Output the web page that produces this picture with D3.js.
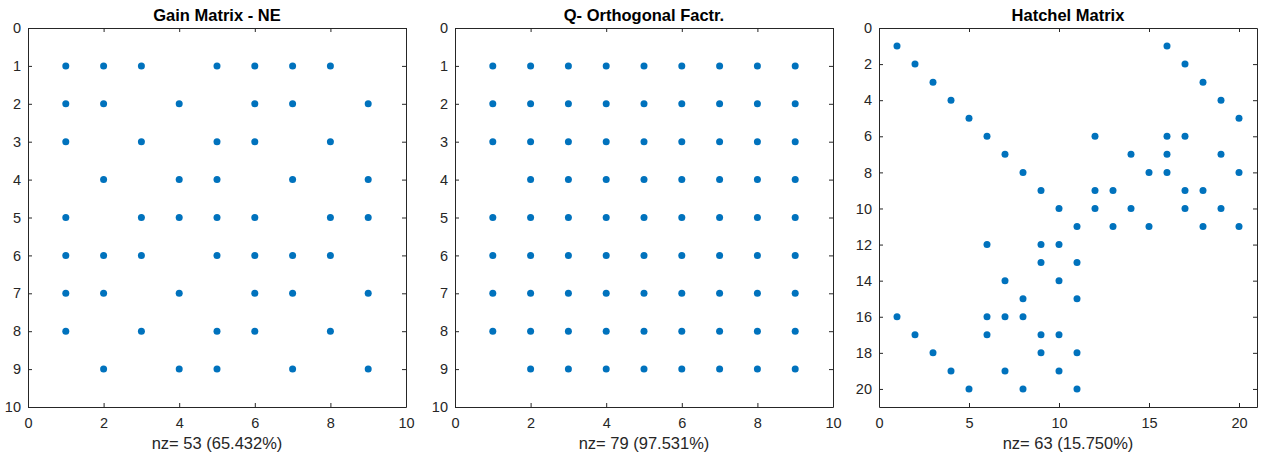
<!DOCTYPE html>
<html>
<head>
<meta charset="utf-8">
<script src="https://cdn.jsdelivr.net/npm/d3@7"></script>
<style>
  body { margin: 0; background: #fff; }
  svg { display: block; font-family: "Liberation Sans", Arial, sans-serif; }
</style>
</head>
<body>
<div id="chart"></div>
<script>
// sparsity patterns

// Gain Matrix - NE : column indices per row 1..9
const gainRows = [
  [1, 2, 3, 5, 6, 7, 8],
  [1, 2, 4, 6, 7, 9],
  [1, 3, 5, 6, 8],
  [2, 4, 5, 7, 9],
  [1, 3, 4, 5, 6, 8, 9],
  [1, 2, 3, 5, 6, 7, 8],
  [1, 2, 4, 6, 7, 9],
  [1, 3, 5, 6, 8],
  [2, 4, 5, 7, 9]
]

// Q- Orthogonal Factr. : column indices per row 1..9
const qRows = [
  [1, 2, 3, 4, 5, 6, 7, 8, 9],
  [1, 2, 3, 4, 5, 6, 7, 8, 9],
  [1, 2, 3, 4, 5, 6, 7, 8, 9],
  [2, 3, 4, 5, 6, 7, 8, 9],
  [1, 2, 3, 4, 5, 6, 7, 8, 9],
  [1, 2, 3, 4, 5, 6, 7, 8, 9],
  [1, 2, 3, 4, 5, 6, 7, 8, 9],
  [1, 2, 3, 4, 5, 6, 7, 8, 9],
  [2, 3, 4, 5, 6, 7, 8, 9]
]

// Hatchel Matrix : column indices per row 1..20
const hatchelRows = [
  [1, 16],
  [2, 17],
  [3, 18],
  [4, 19],
  [5, 20],
  [6, 12, 16, 17],
  [7, 14, 16, 19],
  [8, 15, 16, 20],
  [9, 12, 13, 17, 18],
  [10, 12, 14, 17, 19],
  [11, 13, 15, 18, 20],
  [6, 9, 10],
  [9, 11],
  [7, 10],
  [8, 11],
  [1, 6, 7, 8],
  [2, 6, 9, 10],
  [3, 9, 11],
  [4, 7, 10],
  [5, 8, 11]
]

const titles = ['Gain Matrix - NE', 'Q- Orthogonal Factr.', 'Hatchel Matrix']
const xlabels = ['nz= 53 (65.432%)', 'nz= 79 (97.531%)', 'nz= 63 (15.750%)']
const smallTicks = [0, 2, 4, 6, 8, 10]
const smallYTicks = [0, 1, 2, 3, 4, 5, 6, 7, 8, 9, 10]
const bigXTicks = [0, 5, 10, 15, 20]
const bigYTicks = [0, 2, 4, 6, 8, 10, 12, 14, 16, 18, 20]

const toPoints = (rows) => {
  const pts = []
  rows.forEach((cols, i) => cols.forEach(c => pts.push({ row: i + 1, col: c })))
  return pts
}

const panels = [
  { rows: gainRows, max: 10, xt: smallTicks, yt: smallYTicks, left: 28 },
  { rows: qRows, max: 10, xt: smallTicks, yt: smallYTicks, left: 455 },
  { rows: hatchelRows, max: 21, xt: bigXTicks, yt: bigYTicks, left: 879 }
]

const W = 1261, H = 460
const plotTop = 28, plotBottom = 407, plotW = 378
const ink = '#262626'
const dotColor = '#0072BD'

const svg = d3.select('#chart').append('svg')
  .attr('width', W)
  .attr('height', H)

panels.forEach((p, k) => {
  const x = d3.scaleLinear().domain([0, p.max]).range([p.left, p.left + plotW])
  const y = d3.scaleLinear().domain([0, p.max]).range([plotTop, plotBottom])
  const g = svg.append('g')

  // axes, matlab style: ticks inward on all four sides
  const styleAxis = (sel) => {
    sel.select('.domain').attr('stroke', ink)
    sel.selectAll('.tick line').attr('stroke', ink)
    sel.selectAll('.tick text').attr('fill', ink).attr('font-size', 14.5)
  }

  g.append('g')
    .attr('transform', `translate(0,${plotBottom})`)
    .call(d3.axisBottom(x).tickValues(p.xt).tickSizeInner(-4).tickSizeOuter(0).tickPadding(11))
    .call(styleAxis)
  g.append('g')
    .attr('transform', `translate(0,${plotTop})`)
    .call(d3.axisTop(x).tickValues(p.xt).tickSizeInner(-4).tickSizeOuter(0).tickFormat(''))
    .call(styleAxis)
  g.append('g')
    .attr('transform', `translate(${p.left},0)`)
    .call(d3.axisLeft(y).tickValues(p.yt).tickSizeInner(-4).tickSizeOuter(0).tickPadding(7))
    .call(styleAxis)
  g.append('g')
    .attr('transform', `translate(${p.left + plotW},0)`)
    .call(d3.axisRight(y).tickValues(p.yt).tickSizeInner(-4).tickSizeOuter(0).tickFormat(''))
    .call(styleAxis)

  g.selectAll('.dot')
    .data(toPoints(p.rows))
    .enter().append('circle')
    .attr('class', 'dot')
    .attr('cx', d => x(d.col))
    .attr('cy', d => y(d.row))
    .attr('r', 3.5)
    .attr('fill', dotColor)

  g.append('text')
    .attr('x', p.left + plotW / 2)
    .attr('y', 21)
    .attr('text-anchor', 'middle')
    .attr('font-size', 16.5)
    .attr('font-weight', 'bold')
    .attr('fill', '#000')
    .text(titles[k])

  g.append('text')
    .attr('x', p.left + plotW / 2)
    .attr('y', 449)
    .attr('text-anchor', 'middle')
    .attr('font-size', 16.5)
    .attr('fill', ink)
    .text(xlabels[k])
})
</script>
</body>
</html>
